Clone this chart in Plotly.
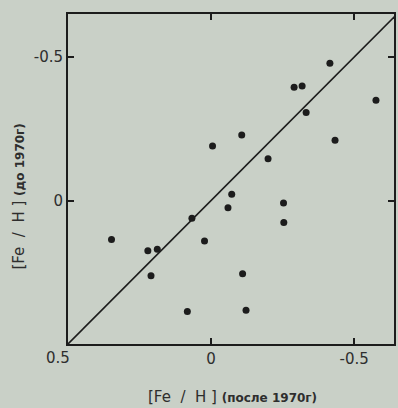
import plotly.graph_objects as go

# [Fe/H] after 1970 (x) and before 1970 (y)
fe_h_after = [0.348, 0.221, 0.188, 0.210, 0.083, 0.067, 0.023, -0.005, -0.059, -0.072,
              -0.107, -0.110, -0.122, -0.199, -0.253, -0.254, -0.290, -0.318, -0.332,
              -0.415, -0.433, -0.576]
fe_h_before = [0.136, 0.175, 0.170, 0.262, 0.387, 0.062, 0.141, -0.190, 0.025, -0.022,
               -0.228, 0.255, 0.382, -0.146, 0.009, 0.077, -0.395, -0.399, -0.307,
               -0.478, -0.210, -0.349]
x_ticks = [0.5, 0, -0.5]
x_tick_text = ["", "0", "-0.5"]
y_ticks = [-0.5, 0, 0.5]
y_tick_text = ["-0.5", "0", ""]
line_ends = [0.5, -0.645]

ink = "#1c1c1c"
txt = "#2e2e2e"
bg = "#c9d0c7"
font = "DejaVu Sans"

fig = go.Figure()
fig.add_trace(go.Scatter(x=line_ends, y=line_ends, mode="lines",
                         line=dict(color=ink, width=1.6), hoverinfo="skip"))
fig.add_trace(go.Scatter(x=fe_h_after, y=fe_h_before, mode="markers",
                         marker=dict(color=ink, size=7)))

axis_common = dict(showgrid=False, zeroline=False, showline=True, linecolor=ink,
                   linewidth=2, mirror="ticks", ticks="inside", ticklen=6,
                   tickwidth=1.5, tickcolor=ink,
                   tickfont=dict(family=font, size=15, color=txt))
fig.update_xaxes(range=[0.5, -0.639], tickvals=x_ticks, ticktext=x_tick_text, **axis_common)
fig.update_yaxes(range=[0.5, -0.65], tickvals=y_ticks, ticktext=y_tick_text, **axis_common)

fig.add_annotation(xref="x", yref="paper", x=0.5, y=0, text="0.5", showarrow=False,
                   xanchor="center", yanchor="top", xshift=-10, yshift=-3,
                   font=dict(family=font, size=15, color=txt))

nb = "\u00a0"
main = f"[Fe{nb}{nb}/{nb}{nb}H{nb}]"
x_title = f'{main} <span style="font-size:12px"><b>(после 1970г)</b></span>'
y_title = f'{main} <span style="font-size:12px"><b>(до 1970г)</b></span>'
fig.add_annotation(xref="paper", yref="paper", x=0.505, y=-0.161, text=x_title,
                   showarrow=False, xanchor="center", yanchor="middle",
                   font=dict(family=font, size=15, color=txt))
fig.add_annotation(xref="paper", yref="paper", x=-0.149, y=0.448, text=y_title,
                   showarrow=False, textangle=-90, xanchor="center", yanchor="middle",
                   font=dict(family=font, size=15, color=txt))

fig.update_layout(width=398, height=408, showlegend=False,
                  margin=dict(l=68, r=2, t=14, b=64),
                  paper_bgcolor=bg, plot_bgcolor=bg)
fig.write_html("out.html", config={"displayModeBar": False},
               post_script="document.body.style.margin='0';document.body.style.overflow='hidden';document.body.style.background='%s';" % bg)
